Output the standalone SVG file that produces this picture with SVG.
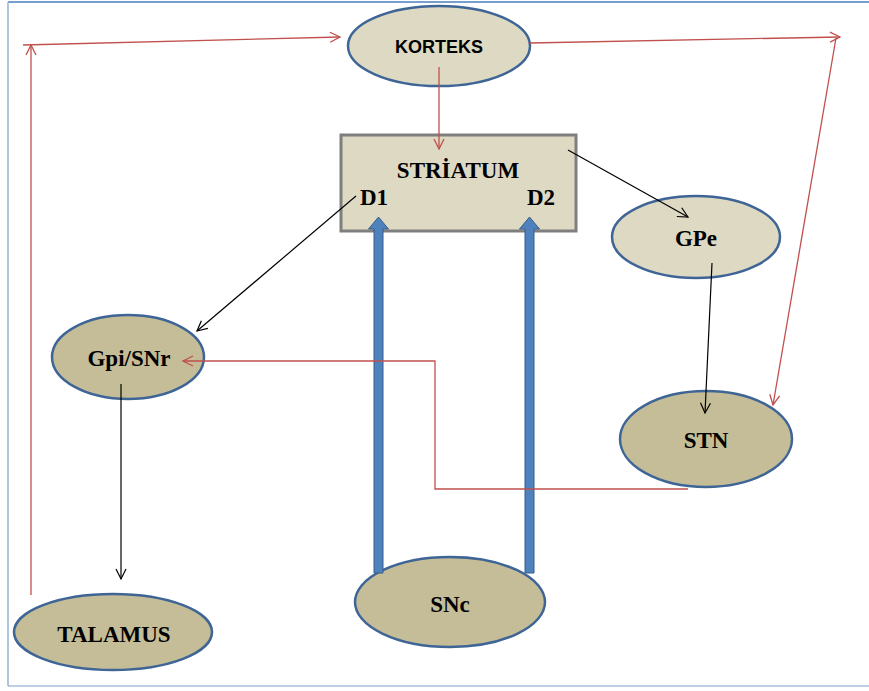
<svg xmlns="http://www.w3.org/2000/svg" width="869" height="691" viewBox="0 0 869 691">
<style>
.lbl{font-family:"Liberation Serif","Times New Roman",serif;font-weight:bold;font-size:23px;fill:#000;text-anchor:middle}
.light{fill:#ddd9c3;stroke:#3e6596;stroke-width:2.5}
.dark{fill:#c4bd97;stroke:#3e6596;stroke-width:2.5}
.red{fill:none;stroke:#c0504d;stroke-width:1.3}
.blk{fill:none;stroke:#000;stroke-width:1.2}
.dop{fill:#4f81bd;stroke:#385d8a;stroke-width:1}
</style>
<defs>
<marker id="ar" markerUnits="userSpaceOnUse" markerWidth="14" markerHeight="14" refX="11" refY="6" orient="auto" viewBox="0 0 14 12">
<path d="M1,1 L11,6 L1,11" fill="none" stroke="#c0504d" stroke-width="1.3"/>
</marker>
<marker id="ab" markerUnits="userSpaceOnUse" markerWidth="14" markerHeight="14" refX="11" refY="6" orient="auto" viewBox="0 0 14 12">
<path d="M1,1 L11,6 L1,11" fill="none" stroke="#000" stroke-width="1.2"/>
</marker>
</defs>
<rect width="869" height="691" fill="#fff"/>
<g id="frame">
<line x1="8" y1="2" x2="869" y2="2" stroke="#4a7ebb" stroke-width="1.5"/>
<line x1="8" y1="2" x2="8" y2="686" stroke="#95b3d7" stroke-width="1.5"/>
<line x1="8" y1="686" x2="869" y2="686" stroke="#7f9fc8" stroke-width="1.2"/>
</g>
<g id="KORTEKS">
<ellipse class="light" cx="439" cy="46" rx="91" ry="40"/>
<text x="439" y="53" style="font-family:'Liberation Sans',Arial,sans-serif;font-weight:bold;font-size:18px;text-anchor:middle">KORTEKS</text>
</g>
<g id="STRIATUM">
<rect x="341" y="135" width="235" height="96" fill="#ddd9c3" stroke="#7f7f7f" stroke-width="3"/>
<text class="lbl" x="458" y="178">STRİATUM</text>
<text class="lbl" x="374" y="205">D1</text>
<text class="lbl" x="541" y="205">D2</text>
</g>
<g id="GPe">
<ellipse class="light" cx="696" cy="237" rx="84" ry="41"/>
<text class="lbl" x="696" y="246">GPe</text>
</g>
<g id="STN">
<ellipse class="dark" cx="706" cy="439" rx="86" ry="48"/>
<text class="lbl" x="706" y="448">STN</text>
</g>
<g id="GpiSNr">
<ellipse class="dark" cx="128" cy="357" rx="76" ry="42"/>
<text class="lbl" x="129" y="366">Gpi/SNr</text>
</g>
<g id="TALAMUS">
<ellipse class="dark" cx="113" cy="632" rx="99" ry="38"/>
<text class="lbl" x="114" y="642">TALAMUS</text>
</g>
<g id="SNc">
<ellipse class="dark" cx="450" cy="602" rx="95" ry="45"/>
<text class="lbl" x="450" y="612">SNc</text>
</g>
<g id="dopamine">
<path class="dop" d="M374,573 L374,229 L368.5,229 L378.5,217 L388.5,229 L383,229 L383,573 Z"/>
<path class="dop" d="M525,573 L525,229 L519.5,229 L529.5,217 L539.5,229 L534,229 L534,573 Z"/>
</g>
<g id="connectors">
<polyline class="red" points="31,595 31,45" marker-end="url(#ar)"/>
<line class="red" x1="23" y1="45" x2="340" y2="37" marker-end="url(#ar)"/>
<line class="red" x1="530" y1="43" x2="840" y2="37" marker-end="url(#ar)"/>
<line class="red" x1="836" y1="38" x2="773" y2="405" marker-end="url(#ar)"/>
<line class="red" x1="439" y1="67" x2="439" y2="149" marker-end="url(#ar)"/>
<polyline class="red" points="688,489 435,489 435,361 183,361" marker-end="url(#ar)"/>
<line class="blk" x1="568" y1="150" x2="688" y2="217" marker-end="url(#ab)"/>
<line class="blk" x1="712" y1="263" x2="705" y2="413" marker-end="url(#ab)"/>
<line class="blk" x1="356" y1="196" x2="197" y2="331" marker-end="url(#ab)"/>
<line class="blk" x1="121" y1="384" x2="121" y2="579" marker-end="url(#ab)"/>
</g>
</svg>
